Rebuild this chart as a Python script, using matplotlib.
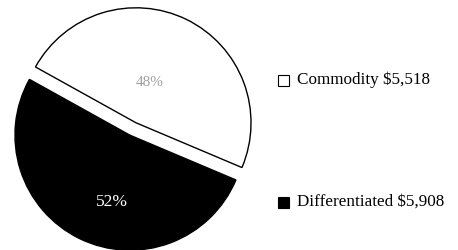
import matplotlib
matplotlib.use("Agg")
import matplotlib.pyplot as plt
from matplotlib.patches import Rectangle

categories = ["Commodity", "Differentiated"]
values = [5518, 5908]
pct_labels = ["48%", "52%"]
colors = ["white", "black"]

fig = plt.figure(figsize=(4.58, 2.5), dpi=100)
ax = fig.add_axes([0, 0, 1, 1])

R = 115
wedges, _ = ax.pie(values, colors=colors, startangle=-22.9, counterclock=True,
                   radius=R, center=(133, 121), explode=[0.06 * R, 0.06 * R],
                   wedgeprops=dict(edgecolor="black", linewidth=1.0),
                   frame=True)
ax.set_xlim(0, 458)
ax.set_ylim(0, 250)
ax.set_aspect("equal")
ax.axis("off")

serif = ["Liberation Serif", "DejaVu Serif"]
ax.text(150, 250 - 82, pct_labels[0], color="#a0a0a0", fontsize=11,
        ha="center", va="center", family=serif)
ax.text(112, 250 - 202, pct_labels[1], color="white", fontsize=12.5,
        ha="center", va="center", family=serif)

# legend
leg_y = [250 - 80, 250 - 202]
for c, cat, v, y in zip(colors, categories, values, leg_y):
    ax.add_patch(Rectangle((278, y - 5.5), 11, 11, facecolor=c,
                           edgecolor="black", linewidth=0.8))
    ax.text(297, y, f"{cat} ${v:,}", fontsize=12.3, ha="left", va="center",
            family=serif, color="black")

fig.savefig("out.png", dpi=100)
